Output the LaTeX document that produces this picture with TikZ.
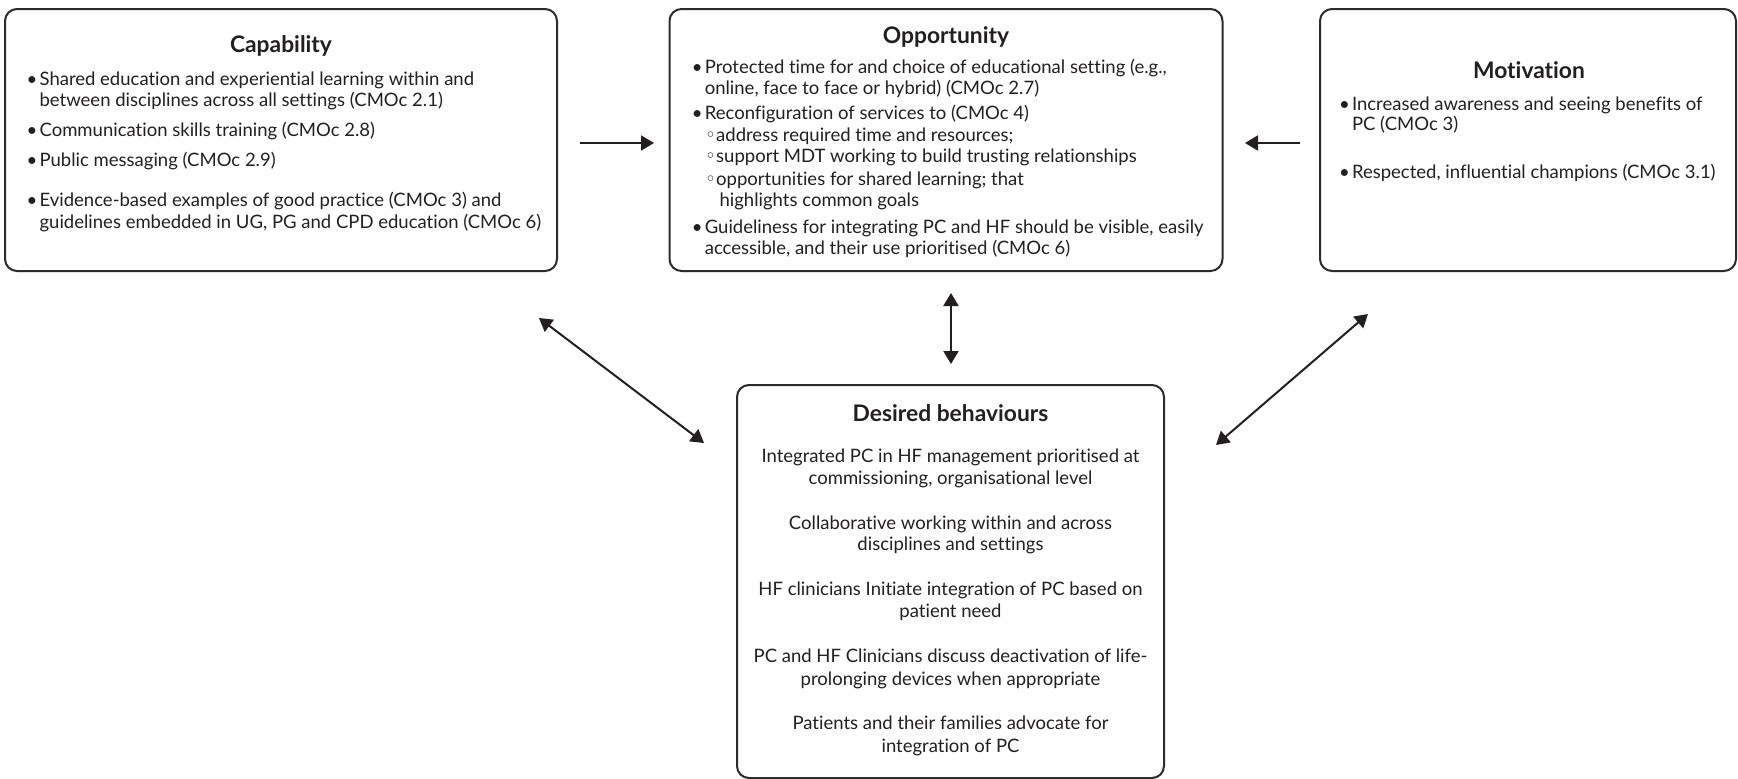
\documentclass[tikz,border=0pt]{standalone}
\usepackage{fontspec}
\setmainfont{Lato}[Ligatures=NoCommon]
\newfontfamily\symfont{DejaVu Sans}
\usetikzlibrary{arrows.meta}
\definecolor{ink}{HTML}{231F20}
\definecolor{frame}{HTML}{2B2B2B}
\newcommand\itembul{\makebox[13pt][l]{\textbullet}}
\newcommand\subbul{\makebox[11pt][l]{{\symfont ◦}}}
\tikzset{
  panel/.style={draw=frame, line width=2pt, rounded corners=12pt, inner sep=0pt},
  paneltitle/.style={font=\fontsize{22.8}{27}\selectfont\bfseries, text=ink, anchor=base, inner sep=0pt},
  txt/.style={font=\fontsize{18.5}{22}\selectfont, text=ink, anchor=base west, inner sep=0pt},
  ctxt/.style={font=\fontsize{18.5}{22}\selectfont, text=ink, anchor=base, inner sep=0pt},
  onearrow/.style={draw=ink, line width=2pt, -{Triangle[length=13pt,width=15pt]}},
  twoarrow/.style={draw=ink, line width=2pt, {Triangle[length=13pt,width=15pt]}-{Triangle[length=13pt,width=15pt]}},
}
\begin{document}
\begin{tikzpicture}[x=1pt,y=-1pt]
\useasboundingbox (0,0) rectangle (1738,779);

% frames
\node[panel, minimum width=552pt, minimum height=262pt] (cap) at (281,140) {};
\node[panel, minimum width=553pt, minimum height=262pt] (opp) at (946,140) {};
\node[panel, minimum width=416pt, minimum height=262pt] (mot) at (1528,140) {};
\node[panel, minimum width=427pt, minimum height=393pt] (des) at (950.5,581.5) {};

% Capability
\node[paneltitle] (capt) at (281,52) {Capability};
\node[txt] (c1a) at (26.4,85.5) {\itembul Shared education and experiential learning within and};
\node[txt] (c1b) at (39.4,106.5) {between disciplines across all settings (CMOc 2.1)};
\node[txt] (c2) at (26.4,136.5) {\itembul Communication skills training (CMOc 2.8)};
\node[txt] (c3) at (26.4,166.5) {\itembul Public messaging (CMOc 2.9)};
\node[txt] (c4a) at (26.4,206.5) {\itembul Evidence-based examples of good practice (CMOc 3) and};
\node[txt] (c4b) at (39.4,228.5) {guidelines embedded in UG, PG and CPD education (CMOc 6)};

% Opportunity
\node[paneltitle] (oppt) at (946,43) {Opportunity};
\node[txt] (o1a) at (691.6,73.5) {\itembul Protected time for and choice of educational setting (e.g.,};
\node[txt] (o1b) at (704.6,94.5) {online, face to face or hybrid) (CMOc 2.7)};
\node[txt] (o2) at (691.6,119.5) {\itembul Reconfiguration of services to (CMOc 4)};
\node[txt] (o2a) at (705,141) {\subbul address required time and resources;};
\node[txt] (o2b) at (705,162.5) {\subbul support MDT working to build trusting relationships};
\node[txt] (o2c) at (705,185) {\subbul opportunities for shared learning; that};
\node[txt] (o2d) at (719.4,206) {highlights common goals};
\node[txt] (o3a) at (691.6,233) {\itembul Guideliness for integrating PC and HF should be visible, easily};
\node[txt] (o3b) at (704.6,254) {accessible, and their use prioritised (CMOc 6)};

% Motivation
\node[paneltitle] (mott) at (1529,78) {Motivation};
\node[txt] (m1a) at (1338.8,110) {\itembul Increased awareness and seeing benefits of};
\node[txt] (m1b) at (1351.8,130.5) {PC (CMOc 3)};
\node[txt] (m2) at (1338.8,178) {\itembul Respected, influential champions (CMOc 3.1)};

% Desired behaviours
\node[paneltitle] (dest) at (950.5,421) {Desired behaviours};
\node[ctxt] (d1a) at (950.5,462) {Integrated PC in HF management prioritised at};
\node[ctxt] (d1b) at (950.5,484) {commissioning, organisational level};
\node[ctxt] (d2a) at (950.5,529) {Collaborative working within and across};
\node[ctxt] (d2b) at (950.5,550) {disciplines and settings};
\node[ctxt] (d3a) at (950.5,595) {HF clinicians Initiate integration of PC based on};
\node[ctxt] (d3b) at (950.5,617) {patient need};
\node[ctxt] (d4a) at (950.5,662) {PC and HF Clinicians discuss deactivation of life-};
\node[ctxt] (d4b) at (950.5,685) {prolonging devices when appropriate};
\node[ctxt] (d5a) at (950.5,729) {Patients and their families advocate for};
\node[ctxt] (d5b) at (950.5,752) {integration of PC};

% arrow ends
\coordinate (capR) at (580,143);
\coordinate (oppL) at (654,143);
\coordinate (motL) at (1300,143);
\coordinate (oppR) at (1245,143);
\coordinate (oppB) at (951,293);
\coordinate (desT) at (951,364);
\coordinate (capB) at (539,318);
\coordinate (desL) at (704,443);
\coordinate (motB) at (1368,314);
\coordinate (desR) at (1216,445);

\draw[onearrow] (capR) -- (oppL);
\draw[onearrow] (motL) -- (oppR);
\draw[twoarrow] (oppB) -- (desT);
\draw[twoarrow] (capB) -- (desL);
\draw[twoarrow] (motB) -- (desR);
\end{tikzpicture}
\end{document}
